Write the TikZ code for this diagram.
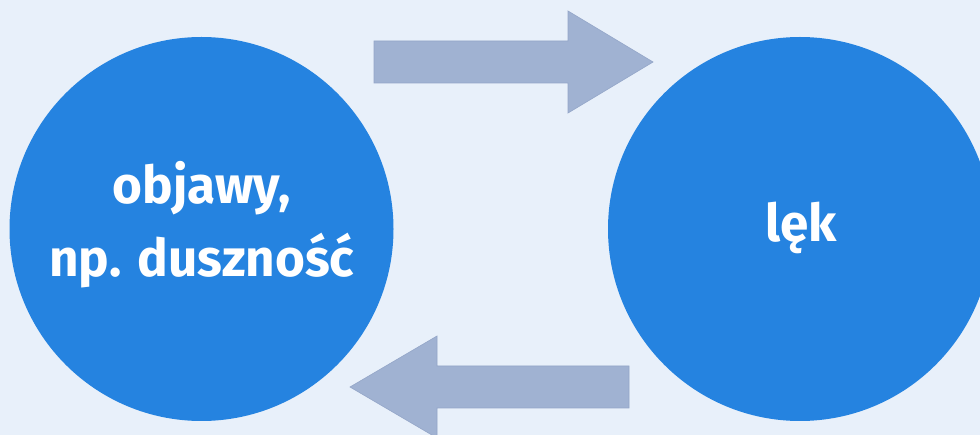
\documentclass[tikz,border=0pt]{standalone}
\usepackage{fontspec}
\setmainfont{Fira Sans}[FakeStretch=0.985]
\definecolor{bgc}{RGB}{232,240,250}
\definecolor{circc}{RGB}{37,131,224}
\definecolor{arrc}{RGB}{160,178,210}
\definecolor{arrd}{RGB}{148,166,200}
\begin{document}
\begin{tikzpicture}[x=1pt,y=-1pt,
  bubble/.style={circle, fill=circc, minimum size=384pt, inner sep=0pt},
  lbl/.style={text=white, font=\fontsize{52}{60}\selectfont\bfseries, anchor=base, inner sep=0pt},
  blockarrow/.style={fill=arrc, draw=arrd, line width=0.6pt}]
\useasboundingbox (0,0) rectangle (980,435);
\fill[bgc] (0,0) rectangle (980,435);
\clip (0,0) rectangle (980,435);
\node[bubble] (sym) at (201.5,229) {};
\node[bubble] (fear) at (800,229) {};
\node[lbl] (t1) at (201.5,204) {objawy,};
\node[lbl] (t2) at (202,277) {np. duszność};
\node[lbl] (t3) at (801,242) {lęk};
% top arrow (symptoms -> fear)
\draw[blockarrow] (374,41) -- (568,41) -- (568,11) -- (653,62) -- (568,113) -- (568,83) -- (374,83) -- cycle;
% bottom arrow (fear -> symptoms)
\draw[blockarrow] (629,366) -- (437,366) -- (437,336) -- (350,387) -- (437,438) -- (437,408) -- (629,408) -- cycle;
\end{tikzpicture}
\end{document}
